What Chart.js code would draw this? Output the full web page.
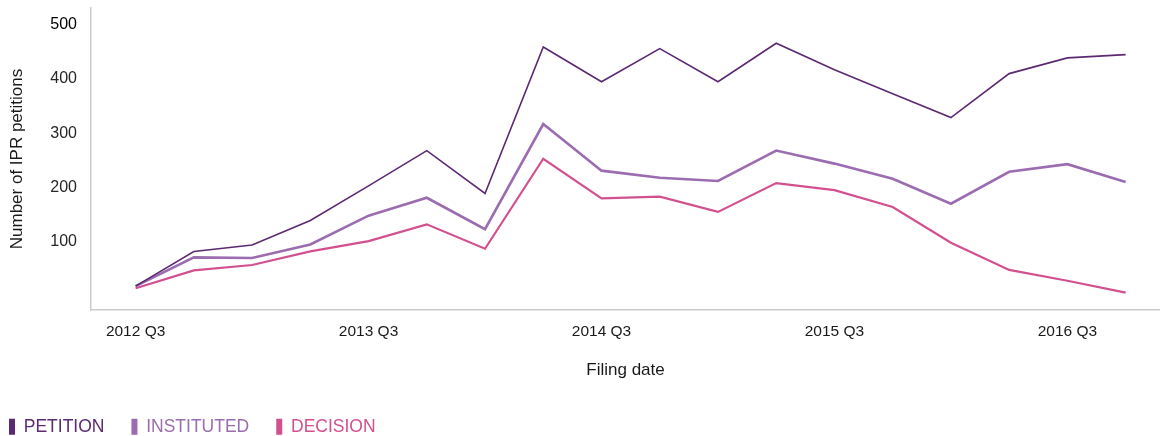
<!DOCTYPE html>
<html><head><meta charset="utf-8">
<script src="https://cdn.jsdelivr.net/npm/chart.js@4"></script>
<style>html,body{margin:0;padding:0;background:#fff}#wrap{position:relative;width:1160px;height:436px}</style>
</head><body><div id="wrap"><canvas id="c"></canvas></div>
<script>
const quarters = ['2012 Q3','2012 Q4','2013 Q1','2013 Q2','2013 Q3','2013 Q4','2014 Q1','2014 Q2','2014 Q3','2014 Q4','2015 Q1','2015 Q2','2015 Q3','2015 Q4','2016 Q1','2016 Q2','2016 Q3','2016 Q4'];
const petition   = [18,82,94,139,203,268,189,459,395,456,395,466,417,373,329,410,439,445];
const instituted = [18,71,70,95,148,181,123,317,231,218,212,268,244,216,170,229,243,210];
const decision   = [14,47,57,82,101,132,87,253,180,183,155,208,195,164,98,48,28,6];
const xTickLabels = ['2012 Q3','2013 Q3','2014 Q3','2015 Q3','2016 Q3'];
const yTickValues = [100,200,300,400,500];
const seriesNames = ['PETITION','INSTITUTED','DECISION'];

Chart.defaults.font.family = '"Liberation Sans", Arial, sans-serif';
const colors = ['#5b2a72','#9b6db0','#d2508f'];
const widths = [1.6,2.6,2.2];
const toPts = arr => arr.map((v,i)=>({x:i,y:v}));

const legendShift = {
  id:'legendShift',
  afterLayout(chart){
    const lg = chart.legend; if(!lg) return;
    const w = lg.right - lg.left, h = lg.bottom - lg.top;
    lg.left = -18; lg.right = lg.left + w;
    lg.top = 391; lg.bottom = lg.top + h;
  }
};
const zeroPad = s => { s.paddingTop = 0; s.paddingBottom = 0; s.paddingLeft = 0; s.paddingRight = 0; };

new Chart(document.getElementById('c'), {
  type:'line',
  data:{
    datasets:[petition,instituted,decision].map((d,i)=>({
      label:seriesNames[i], data:toPts(d), borderColor:colors[i], backgroundColor:colors[i],
      borderWidth:widths[i], pointRadius:0, tension:0, fill:false
    }))
  },
  options:{
    responsive:true, maintainAspectRatio:false, animation:false,
    layout:{padding:{top:8,left:0,right:0,bottom:0}},
    plugins:{
      tooltip:{enabled:false},
      legend:{
        position:'bottom', align:'start',
        labels:{
          boxWidth:6, boxHeight:16, padding:27, font:{size:17.5},
          generateLabels(chart){
            return chart.data.datasets.map((ds,i)=>({
              text:ds.label, fillStyle:ds.borderColor, strokeStyle:ds.borderColor,
              lineWidth:0, fontColor:ds.borderColor, datasetIndex:i, hidden:false
            }));
          }
        }
      }
    },
    scales:{
      x:{
        type:'linear', min:-0.766, max:17.59,
        grid:{display:false, drawTicks:false},
        border:{display:true, color:'#cccccc', width:1.5},
        afterBuildTicks(s){ s.ticks = xTickLabels.map(l=>({value:quarters.indexOf(l)})); },
        afterFit(s){ zeroPad(s); s.height = 126 - (s.chart.legend ? s.chart.legend.height : 51); },
        ticks:{padding:12, maxRotation:0, autoSkip:false, color:'#1a1a1a', font:{size:15.5},
          callback:v=>quarters[v]},
        title:{display:true, text:'Filing date', color:'#1a1a1a', font:{size:17}, padding:{top:21.5,bottom:0.8}}
      },
      y:{
        min:-26, max:531,
        grid:{display:false, drawTicks:false},
        border:{display:true, color:'#cccccc', width:1.5},
        afterBuildTicks(s){ s.ticks = yTickValues.map(v=>({value:v})); },
        afterFit(s){ zeroPad(s); s.width = 91; },
        ticks:{padding:14, color:c=>c.tick && c.tick.value===500 ? '#000000' : '#262626', font:{size:16}},
        title:{display:true, text:'Number of IPR petitions', color:'#1a1a1a', font:{size:17}, padding:{top:7,bottom:10}}
      }
    }
  },
  plugins:[legendShift]
});
</script></body></html>
